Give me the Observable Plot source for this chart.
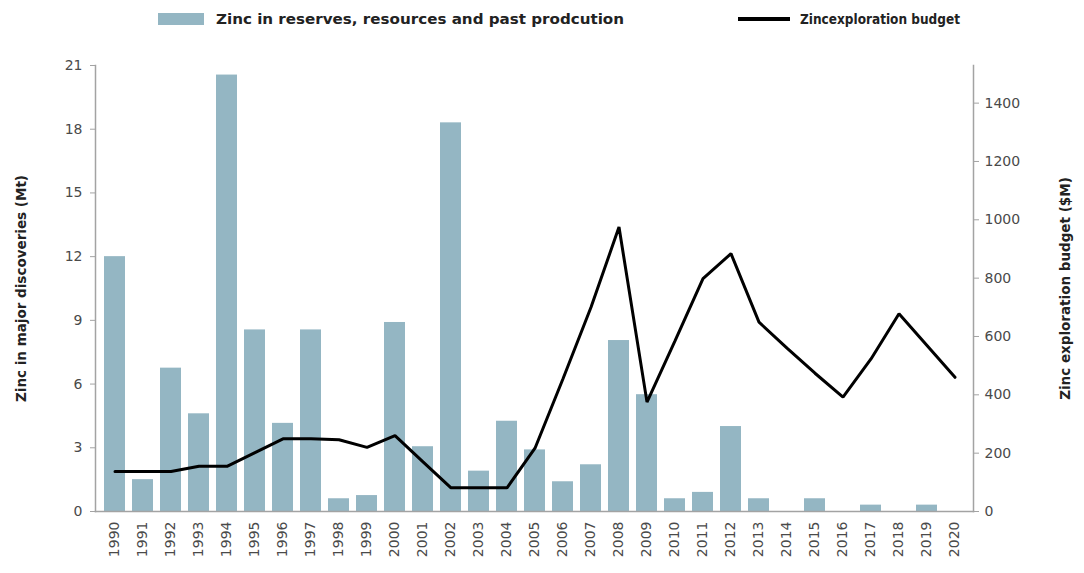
<!DOCTYPE html>
<html>
<head>
<meta charset="utf-8">
<script src="https://cdn.jsdelivr.net/npm/d3@7"></script>
<script src="https://cdn.jsdelivr.net/npm/@observablehq/plot@0.6"></script>
<style>
  html, body { margin: 0; padding: 0; background: #fff; }
  #legend { position: relative; width: 1084px; height: 38px; font-family: "DejaVu Sans", sans-serif; }
  #chart svg { display: block; }
</style>
</head>
<body>
<div id="legend"></div>
<div id="chart"></div>
<script>
const years = [1990,1991,1992,1993,1994,1995,1996,1997,1998,1999,2000,2001,2002,2003,2004,2005,2006,2007,2008,2009,2010,2011,2012,2013,2014,2015,2016,2017,2018,2019,2020];
const zincMt = [12.0,1.5,6.75,4.6,20.55,8.55,4.15,8.55,0.6,0.75,8.9,3.05,18.3,1.9,4.25,2.9,1.4,2.2,8.05,5.5,0.6,0.9,4.0,0.6,0,0.6,0,0.3,0,0.3,0];
const budgetM = [137,137,137,155,155,202,249,249,246,220,260,170,81,81,81,217,455,700,975,375,585,798,884,649,560,474,392,523,678,569,460];
const leftTicks = [0,3,6,9,12,15,18,21];
const rightTicks = [0,200,400,600,800,1000,1200,1400];
const seriesNames = ["Zinc in reserves, resources and past prodcution", "Zincexploration budget"];
const axisTitles = ["Zinc in major discoveries (Mt)", "Zinc exploration budget ($M)"];

const leftMax = 21, rightMax = 1529;
const k = leftMax / rightMax;

const rows = years.map((y, i) => ({year: y, zinc: zincMt[i], budget: budgetM[i], scaled: budgetM[i] * k}));

const barColor = "#94b6c3";
const axisColor = "#a3a3a3";
const textColor = "#4a4a4a";

// Legend
const leg = d3.select("#legend").append("svg").attr("width", 1084).attr("height", 38);
leg.append("rect").attr("x", 158).attr("y", 13).attr("width", 46).attr("height", 12).attr("fill", barColor);
leg.append("text").attr("x", 216).attr("y", 24).attr("font-size", 13.5).attr("font-weight", "bold")
  .attr("fill", "#222").attr("textLength", 408).attr("lengthAdjust", "spacingAndGlyphs").text(seriesNames[0]);
leg.append("line").attr("x1", 738).attr("x2", 790).attr("y1", 19).attr("y2", 19).attr("stroke", "#000").attr("stroke-width", 4);
leg.append("text").attr("x", 800).attr("y", 24).attr("font-size", 13.5).attr("font-weight", "bold")
  .attr("fill", "#222").attr("textLength", 160).attr("lengthAdjust", "spacingAndGlyphs").text(seriesNames[1]);

const chart = Plot.plot({
  width: 1084,
  height: 535,
  marginTop: 27,
  marginBottom: 62,
  marginLeft: 95,
  marginRight: 111,
  style: {fontFamily: "DejaVu Sans, sans-serif", fontSize: "13px", color: textColor, background: "#fff"},
  x: {type: "band", domain: years, paddingInner: 0.26, paddingOuter: 0.13, axis: null},
  y: {domain: [0, leftMax], axis: null},
  marks: [
    Plot.barY(rows, {x: "year", y: "zinc", fill: barColor}),
    Plot.line(rows, {x: "year", y: "scaled", stroke: "#000", strokeWidth: 3, strokeLinejoin: "miter"}),
    Plot.frame({anchor: "left", stroke: axisColor, strokeWidth: 1.5}),
    Plot.frame({anchor: "right", stroke: axisColor, strokeWidth: 1.5}),
    Plot.frame({anchor: "bottom", stroke: axisColor, strokeWidth: 1.5}),
    Plot.axisX({tickSize: 0, tickPadding: 10, tickRotate: -90, tickFormat: d => String(d), fontSize: 14, fill: textColor, label: null}),
    Plot.axisY({anchor: "left", ticks: leftTicks, tickSize: 5, tickPadding: 8, stroke: axisColor, fontSize: 14, fill: textColor,
      label: axisTitles[0], labelArrow: "none", labelAnchor: "center", labelOffset: 79}),
    Plot.axisY({anchor: "right", ticks: rightTicks.map(v => v * k), tickFormat: d => String(Math.round(d / k)),
      tickSize: 5, tickPadding: 6, stroke: axisColor, fontSize: 14, fill: textColor, label: null}),
    Plot.axisY({anchor: "right", ticks: [], tickSize: 0, label: axisTitles[1], labelArrow: "none", labelAnchor: "center", labelOffset: 96})
  ]
});
document.getElementById("chart").appendChild(chart);

// bold axis titles, no arrows
d3.select(chart).selectAll("g[aria-label='y-axis label'] text")
  .attr("font-weight", "bold").attr("font-size", 13.5).attr("fill", "#222")
  .text(function() { return d3.select(this).text().replace(/\s*[↑↓→←]\s*/g, ""); });
</script>
</body>
</html>
